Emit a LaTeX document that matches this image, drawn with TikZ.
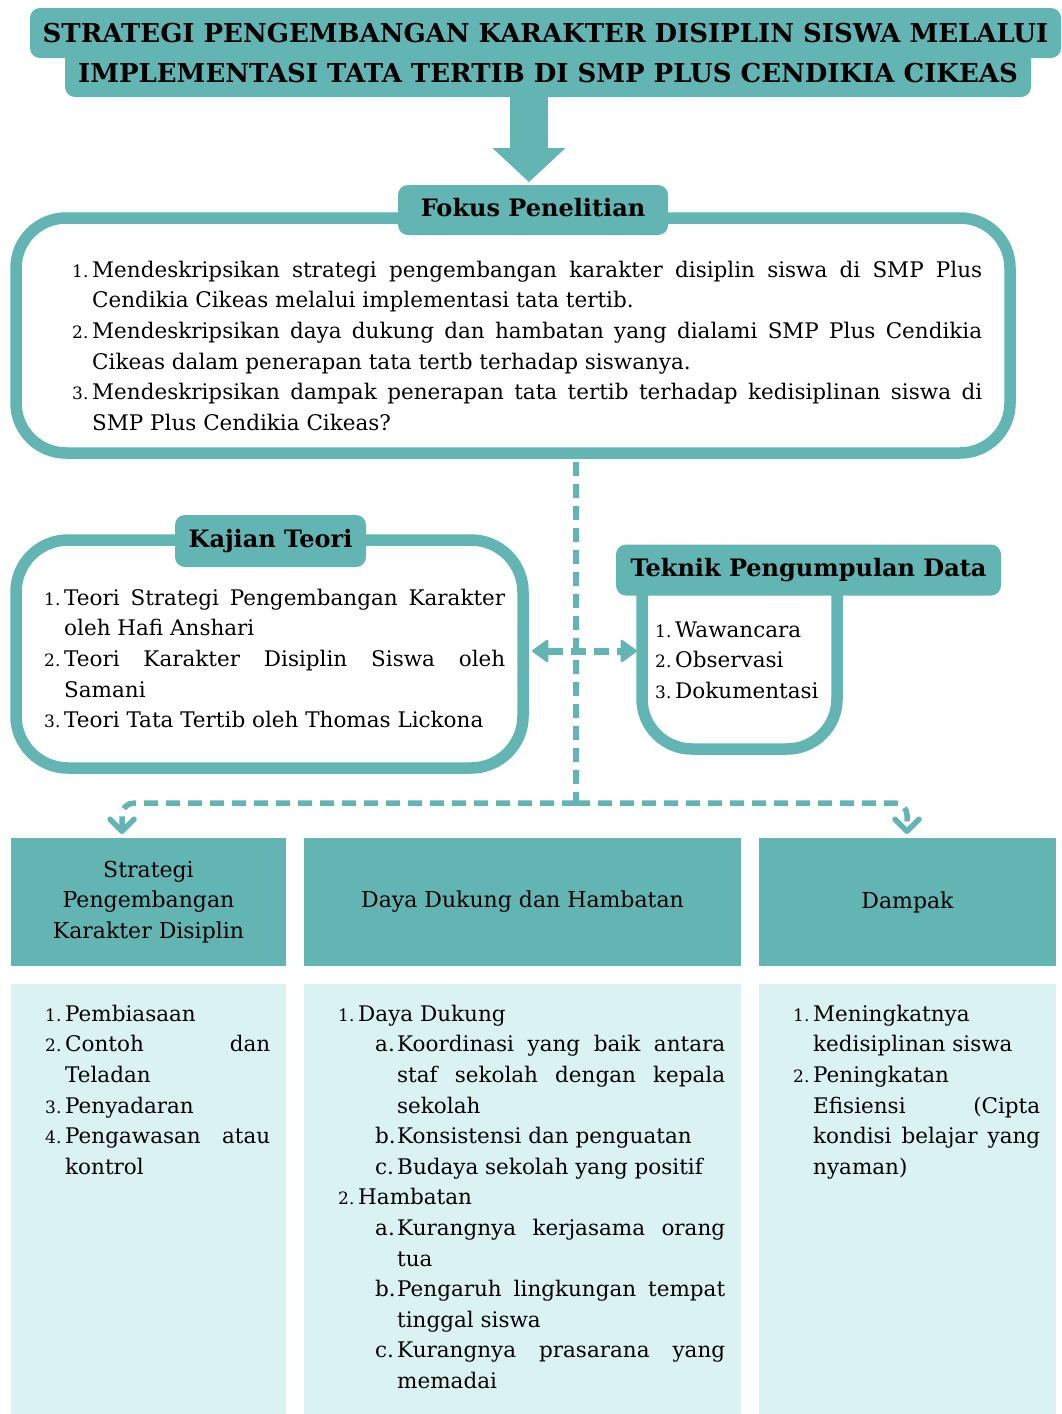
\documentclass[tikz,border=0pt]{standalone}
\usepackage{fontspec}
\setmainfont{DejaVu Serif}
\usetikzlibrary{arrows.meta,positioning}

\definecolor{tealmain}{RGB}{98,181,179}
\definecolor{tealpale}{RGB}{218,243,242}

\newcommand{\bodyfont}{\fontsize{21.5}{30.6}\selectfont}
\newcommand{\headfont}{\fontsize{22}{30.6}\selectfont}
\newcommand{\tagfont}{\bfseries\fontsize{24}{28}\selectfont}
\newcommand{\titlefont}{\bfseries\fontsize{26}{30}\selectfont}
\newcommand{\numfont}{\fontsize{17}{20}\selectfont}

\newlength{\labw}
\setlength{\labw}{20pt}
% numbered item with hanging text
\newcommand{\numitem}[2]{{\leftskip=0pt\noindent\hangindent=\labw\hangafter=1%
  \makebox[\labw][l]{\numfont #1}\strut #2\par}}
% lettered sub-item
\newcommand{\subpoint}[2]{{\leftskip=37pt\noindent\hangindent=22pt\hangafter=1%
  \makebox[22pt][l]{#1}\strut #2\par}}

\tolerance=10000
\hbadness=10000
\hyphenpenalty=10000

\tikzset{
  banner/.style={fill=tealmain, rounded corners=10pt, inner sep=0pt, font=\titlefont},
  frame/.style={draw=tealmain, line width=11.5pt, rounded corners=50pt},
  tag/.style={fill=tealmain, rounded corners=10pt, inner sep=0pt, font=\tagfont,
    text height=17pt, text depth=5pt},
  textblk/.style={inner sep=0pt, anchor=north west, align=justify, font=\bodyfont},
  headbox/.style={fill=tealmain, inner sep=0pt, align=center, font=\headfont,
    minimum height=128pt},
  bodybox/.style={fill=tealpale, inner sep=0pt, minimum height=430pt},
  bigarrow/.style={draw=tealmain, line width=38pt,
    -{Triangle[length=34pt, width=73pt, line width=0pt]}},
  dashline/.style={draw=tealmain, line width=5.5pt, dash pattern=on 14pt off 8pt},
  dblarrow/.style={draw=tealmain, line width=7pt, dash pattern=on 15pt off 8pt,
    {Triangle[round, length=17pt, width=24pt, line width=2pt]}-{Triangle[round, length=17pt, width=24pt, line width=2pt]}},
  branch/.style={dashline, rounded corners=12pt,
    -{Straight Barb[round, length=12pt, width=24pt]}}
}

\begin{document}
\begin{tikzpicture}[x=1pt, y=-1pt]
\fill[white] (0,0) rectangle (1061,1414);
\useasboundingbox (0,0) rectangle (1061,1414);

% title banner
\node[banner, minimum width=1031pt, minimum height=50pt] (tline1) at (545.5,33)
  {STRATEGI PENGEMBANGAN KARAKTER DISIPLIN SISWA MELALUI};
\node[banner, minimum width=966pt, minimum height=47pt] (tline2) at (548,73.5)
  {IMPLEMENTASI TATA TERTIB DI SMP PLUS CENDIKIA CIKEAS};
\coordinate (arrtop) at (529,96);
\coordinate (arrtip) at (529,182);
\draw[bigarrow] (arrtop) -- (arrtip);

% fokus penelitian
\node[frame, minimum width=994pt, minimum height=235pt] (fokus) at (513,335.5) {};
\node[tag, minimum width=270pt, minimum height=50pt] (fokustag) at (533,210) {Fokus Penelitian};
\node[textblk, text width=910pt] (fokustxt) at (72,255.6) {%
  \numitem{1.}{Mendeskripsikan strategi pengembangan karakter disiplin siswa di SMP Plus\linebreak
    Cendikia Cikeas melalui implementasi tata tertib.}%
  \numitem{2.}{Mendeskripsikan daya dukung dan hambatan yang dialami SMP Plus Cendikia\linebreak
    Cikeas dalam penerapan tata tertb terhadap siswanya.}%
  \numitem{3.}{Mendeskripsikan dampak penerapan tata tertib terhadap kedisiplinan siswa di\linebreak
    SMP Plus Cendikia Cikeas?}};

% kajian teori
\node[frame, minimum width=507pt, minimum height=228pt, rounded corners=52pt] (kajian) at (269.5,654) {};
\node[tag, minimum width=191pt, minimum height=52pt] (kajiantag) at (270.5,541) {Kajian Teori};
\node[textblk, text width=461pt] (kajiantxt) at (44,583.6) {%
  \numitem{1.}{Teori Strategi Pengembangan Karakter\linebreak oleh Hafi Anshari}%
  \numitem{2.}{Teori Karakter Disiplin Siswa oleh\linebreak Samani}%
  \numitem{3.}{Teori Tata Tertib oleh Thomas Lickona}};

% teknik pengumpulan data
\draw[frame] (642,592) -- (642,749) -- (837,749) -- (837,592);
\node[tag, minimum width=385pt, minimum height=51pt] (teknitag) at (808.5,570) {Teknik Pengumpulan Data};
\node[textblk, text width=180pt, align=left] (teknitxt) at (655,615.6) {%
  \numitem{1.}{Wawancara}%
  \numitem{2.}{Observasi}%
  \numitem{3.}{Dokumentasi}};

% connectors
\coordinate (dblL) at (532,651);
\coordinate (dblR) at (637,651);
\coordinate (vtop) at (576,462);
\coordinate (hub) at (576,803);
\coordinate (arrL) at (122,834);
\coordinate (arrR) at (907,834);
\draw[dashline] (vtop) -- (hub);
\draw[dblarrow] (dblL) -- (dblR);
\draw[branch] (hub) -| (arrL);
\draw[branch] (hub) -| (arrR);

% columns
\node[headbox, minimum width=275pt] (head1) at (148.5,902) {Strategi\\Pengembangan\\Karakter Disiplin};
\node[headbox, minimum width=437pt] (head2) at (522.5,902) {Daya Dukung dan Hambatan};
\node[headbox, minimum width=297pt] (head3) at (907.5,902) {Dampak};
\node[bodybox, minimum width=275pt] (body1) at (148.5,1199) {};
\node[bodybox, minimum width=437pt] (body2) at (522.5,1199) {};
\node[bodybox, minimum width=297pt] (body3) at (907.5,1199) {};

\node[textblk, text width=225pt] (body1txt) at (45,999.6) {%
  \numitem{1.}{Pembiasaan}%
  \numitem{2.}{Contoh dan\linebreak Teladan}%
  \numitem{3.}{Penyadaran}%
  \numitem{4.}{Pengawasan atau\linebreak kontrol}};
\node[textblk, text width=387pt] (body2txt) at (338,999.6) {%
  \numitem{1.}{Daya Dukung}%
  \subpoint{a.}{Koordinasi yang baik antara\linebreak staf sekolah dengan kepala\linebreak sekolah}%
  \subpoint{b.}{Konsistensi dan penguatan}%
  \subpoint{c.}{Budaya sekolah yang positif}%
  \numitem{2.}{Hambatan}%
  \subpoint{a.}{Kurangnya kerjasama orang\linebreak tua}%
  \subpoint{b.}{Pengaruh lingkungan tempat\linebreak tinggal siswa}%
  \subpoint{c.}{Kurangnya prasarana yang\linebreak memadai}};
\node[textblk, text width=247pt] (body3txt) at (793,999.6) {%
  \numitem{1.}{Meningkatnya\linebreak kedisiplinan siswa}%
  \numitem{2.}{Peningkatan\linebreak Efisiensi (Cipta\linebreak kondisi belajar yang\linebreak nyaman)}};
\end{tikzpicture}
\end{document}
